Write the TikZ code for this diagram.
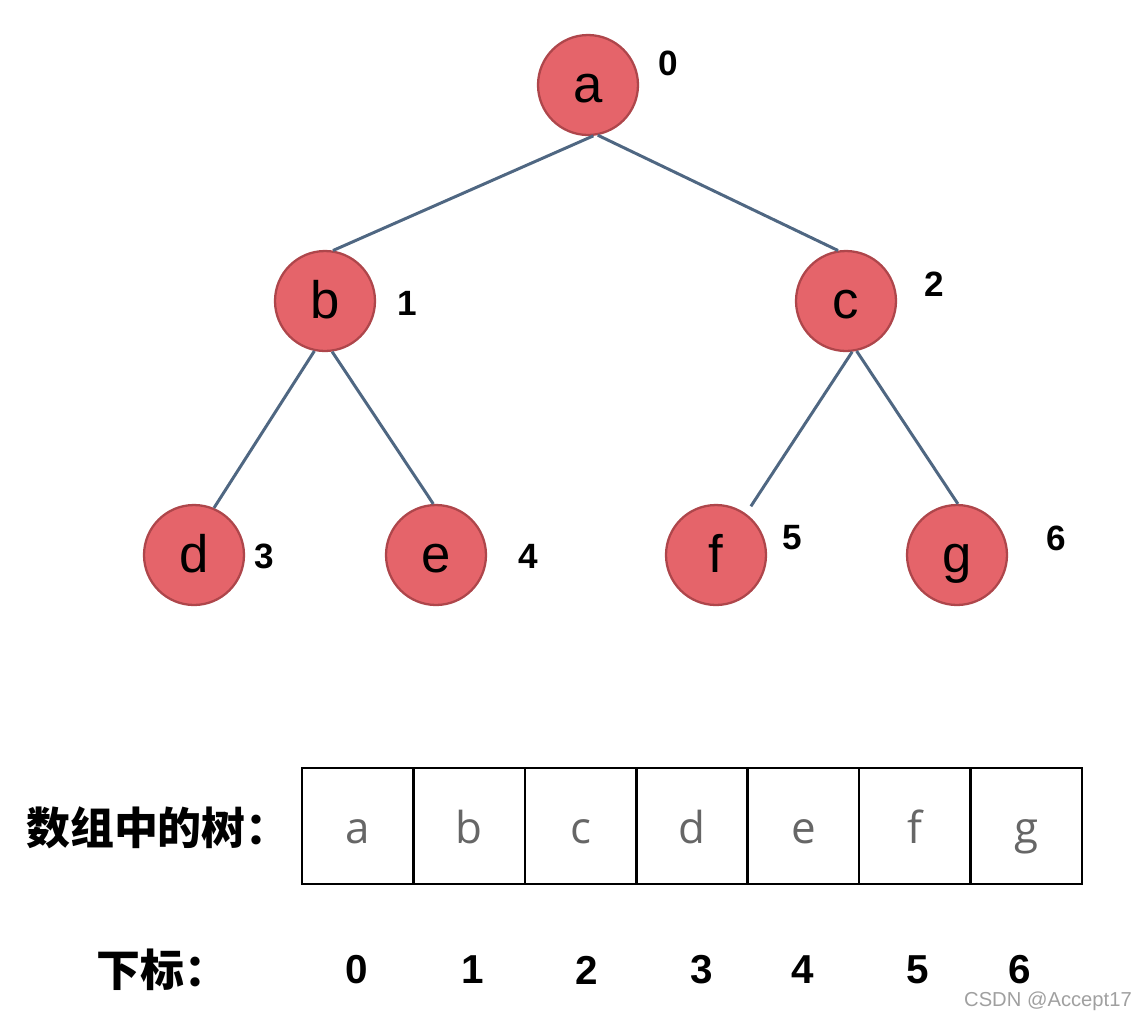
\documentclass[tikz,border=0pt]{standalone}
\usepackage{fontspec}
\setmainfont{Liberation Sans}
\newfontfamily\cjk{Noto Sans CJK SC}
\newfontfamily\cellfont{Open Sans}
\usetikzlibrary{positioning}
\definecolor{c1}{HTML}{000000}
\definecolor{nodefill}{HTML}{E5646A}
\definecolor{nodeedge}{HTML}{AE464B}
\definecolor{edgecolor}{HTML}{4F6782}
\definecolor{cellcolor}{HTML}{666666}
\definecolor{markcolor}{HTML}{A0A0A0}

\begin{document}
\begin{tikzpicture}[
    x=0.02cm, y=-0.02cm,
    treenode/.style={
        circle, draw=nodeedge, fill=nodefill, line width=1.3pt,
        minimum size=2cm, inner sep=0pt, text=c1,
        text height=21pt, text depth=1.5pt,
        font=\fontsize{30}{30}\selectfont,
    },
    idx/.style={font=\fontsize{20}{20}\selectfont\bfseries, text=c1},
    link/.style={edgecolor, line width=1.7pt},
    cellbox/.style={
        rectangle, draw=c1, line width=1.4pt, minimum width=2.228cm,
        minimum height=2.32cm, inner sep=0pt, text=cellcolor,
        text height=20pt, text depth=0.6pt,
        font=\cellfont\fontsize{25}{25}\selectfont,
    },
    caption/.style={font=\cjk\bfseries\fontsize{25}{25}\selectfont, text=c1},
    subnum/.style={font=\fontsize{23}{23}\selectfont\bfseries, text=c1},
]
\useasboundingbox (0,0) rectangle (1140,1012);

% ============================================================ the tree
\node[treenode] (a) at (588, 85) {a};
\node[treenode] (b) at (325, 301) {b};
\node[treenode] (c) at (846, 301) {c};
\node[treenode] (d) at (194, 555) {d};
\node[treenode] (e) at (436, 555) {e};
\node[treenode] (f) at (716, 555) {f};
\node[treenode] (g) at (957, 555) {g};

% the index beside each node
\node[idx] (ia) at (668, 63) {0};
\node[idx] (ib) at (407, 303) {1};
\node[idx] (ic) at (934, 284) {2};
\node[idx] (id) at (264, 556) {3};
\node[idx] (ie) at (528, 556) {4};
\node[idx] (iff) at (792, 538) {5};
\node[idx] (ig) at (1056, 538) {6};

% parent to child
\draw[link] (a.-84) -- (b.81);
\draw[link] (a.-79) -- (c.99);
\draw[link] (b.-102) -- (d.67);
\draw[link] (b.-82) -- (e.93);
\draw[link, shorten >=5pt] (c.-83) -- (f.54);
\draw[link] (c.-78) -- (g.89);

% ============================================================ the same tree in an array
\node[caption, anchor=west] (arrcap) at (20, 828) {数组中的树：};
\foreach \l [count=\i from 0] in {a, b, c, d, e, f, g}{
    \node[cellbox] (cell\i) at ({302+111.43*(\i+0.5)}, 826) {\l};
}

% ============================================================ the subscripts
\node[caption, anchor=west] (subcap) at (90, 970) {下标：};
\foreach \x [count=\i from 0] in {357, 473, 587, 702, 803, 918, 1020}{
    \node[subnum] (sub\i) at (\x, 970) {\i};
}

\node[font=\fontsize{11.5}{11.5}\selectfont, text=markcolor, anchor=east]
    (mark) at (1138, 1001) {CSDN @Accept17};

\end{tikzpicture}
\end{document}
